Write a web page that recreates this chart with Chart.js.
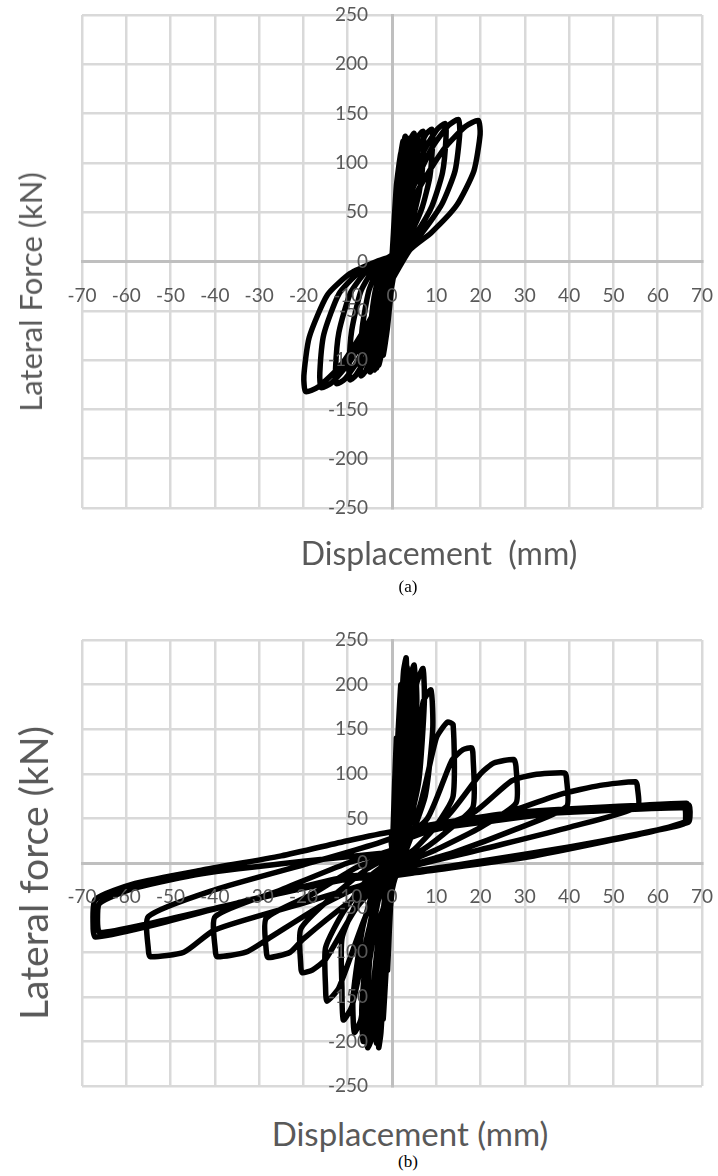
<!DOCTYPE html>
<html>
<head>
<meta charset="utf-8">
<script src="https://cdn.jsdelivr.net/npm/chart.js@4.4.1/dist/chart.umd.min.js"></script>
<style>
  body { margin: 0; background: #fff; width: 718px; height: 1176px; position: relative; overflow: hidden; }
  canvas { position: absolute; left: 0; }
  .lbl { position: absolute; font-family: Lato, "Open Sans", sans-serif; color: #595959; white-space: nowrap; transform: translate(-50%, -50%); }
  .rot { transform: translate(-50%, -50%) rotate(-90deg); }
  .cap { position: absolute; font-family: "Liberation Serif", serif; font-size: 17px; color: #000; transform: translate(-50%, -50%); }
</style>
</head>
<body>
<canvas id="chartA" width="718" height="560" style="top:0"></canvas>
<canvas id="chartB" width="718" height="500" style="top:600px"></canvas>

<div class="lbl rot" style="left:30px; top:292px; font-size:31px;">Lateral Force (kN)</div>
<div class="lbl" style="left:439px; top:552px; font-size:32px;">Displacement&nbsp; (mm)</div>
<div class="cap" style="left:408px; top:587px;">(a)</div>

<div class="lbl rot" style="left:33px; top:873px; font-size:39px;">Lateral force (kN)</div>
<div class="lbl" style="left:410px; top:1133px; font-size:33px;">Displacement (mm)</div>
<div class="cap" style="left:408px; top:1162px;">(b)</div>

<script>
// axis ticks (mm / kN)
const xTicks = [-70, -60, -50, -40, -30, -20, -10, 0, 10, 20, 30, 40, 50, 60, 70];
const yTicks = [-250, -200, -150, -100, -50, 0, 50, 100, 150, 200, 250];

// specimen (a): [displacement mm, lateral force kN]
const hystA = [
  [0, 0],
  [0.5, 42], [1, 60], [0.9, 36], [0.4, 9], [-0.5, -35], [-1, -50], [-0.9, -30], [-0.4, -8],
  [0, 5], [1, 77], [2, 110], [1.8, 66], [0.8, 16], [-1, -66], [-2, -95], [-1.8, -57], [-0.8, -14],
  [0, 6], [1.25, 85], [2.5, 122], [2.25, 73], [1, 18], [-1.5, -73], [-3, -105], [-2.7, -63], [-1.2, -16],
  [0, 6], [1.5, 89], [3, 127], [2.7, 76], [1.2, 19], [-1.75, -76], [-3.5, -108], [-3.15, -65], [-1.4, -16],
  [0, 6], [1.75, 88], [3.5, 125], [3.15, 75], [1.4, 19], [-2, -77], [-4, -110], [-3.6, -66], [-1.6, -17],
  [0, 6], [2, 92], [4, 124], [3.6, 72], [1.6, 18], [-2.2, -78], [-4.5, -108], [-4, -64], [-1.8, -16],
  [0, 7], [1.5, 65], [3, 104], [4.25, 125], [5, 130], [5.1, 117], [4.75, 83], [3.75, 52], [2.25, 26], [1, 10],
  [-1.5, -56], [-3, -90], [-4.25, -108], [-5, -112], [-5.1, -99], [-4.8, -65], [-3.75, -29], [-2.4, -10], [-0.9, 0],
  [0, 7], [2.1, 66], [4.2, 106], [5.95, 127], [7, 132], [7.14, 119], [6.65, 84], [5.25, 53], [3.15, 26], [1.4, 11],
  [-2.1, -58], [-4.2, -93], [-5.95, -111], [-7, -116], [-7.14, -102], [-6.72, -67], [-5.25, -30], [-3.36, -10], [-1.26, 0],
  [0, 7], [2.7, 67], [5.4, 107], [7.65, 129], [9, 134], [9.18, 121], [8.55, 86], [6.75, 54], [4.05, 27], [1.8, 11],
  [-2.85, -60], [-5.7, -96], [-8.1, -115], [-9.5, -120], [-9.7, -106], [-9.1, -70], [-7.1, -31], [-4.6, -11], [-1.7, 0],
  [0, 7], [3.6, 70], [7.2, 112], [10.2, 134], [12, 140], [12.2, 126], [11.4, 90], [9, 56], [5.4, 28], [2.4, 11],
  [-3.75, -62], [-7.5, -99], [-10.6, -119], [-12.5, -124], [-12.75, -109], [-12, -72], [-9.4, -32], [-6, -11], [-2.25, 0],
  [0, 7], [4.5, 72], [9, 115], [12.75, 138], [15, 144], [15.3, 130], [14.25, 92], [11.25, 58], [6.75, 29], [3, 12],
  [-4.8, -64], [-9.6, -102], [-13.6, -123], [-16, -128], [-16.3, -113], [-15.4, -74], [-12, -33], [-7.7, -12], [-2.9, 0],
  [0, 7], [5.85, 72], [11.7, 114], [16.6, 137], [19.5, 143], [19.9, 129], [18.5, 92], [14.6, 57], [8.8, 29], [3.9, 11],
  [-5.85, -66], [-11.7, -106], [-16.6, -127], [-19.5, -132], [-19.9, -116], [-18.7, -77], [-14.6, -34], [-9.4, -12], [-3.5, 0], [0, 5]
];

// specimen (b): [displacement mm, lateral force kN]
const hystB = [
  [0, 0],
  [0.6, 90], [1, 140], [0.8, 80], [0.2, 5], [-0.6, -75], [-1, -120], [-0.8, -70], [-0.2, -5],
  [0, 5], [1.2, 130], [2, 200], [1.7, 110], [0.5, 10], [-1.2, -110], [-2, -175], [-1.7, -100], [-0.5, -10],
  [0, 10], [1.5, 120], [2.6, 215], [3.2, 230], [3.3, 200], [2.6, 110], [1, 15],
  [-1.4, -100], [-2.5, -190], [-3, -207], [-3.1, -180], [-2.4, -95], [-0.8, -10],
  [0, 10], [1.7, 115], [2.8, 205], [3.4, 220], [3.5, 190], [2.8, 105], [1.1, 15],
  [-1.6, -95], [-2.8, -185], [-3.5, -202], [-3.6, -175], [-2.7, -90], [-0.9, -10],
  [0, 12], [2.5, 100], [4, 205], [5, 222], [5.3, 190], [4.5, 100], [2, 15],
  [-2.5, -90], [-4.5, -195], [-5.5, -207], [-5.7, -170], [-4.5, -80], [-1.5, -5],
  [0, 12], [2.7, 95], [4.3, 195], [5.3, 212], [5.6, 180], [4.7, 95], [2.1, 15],
  [-2.7, -85], [-4.7, -185], [-5.8, -200], [-6, -165], [-4.7, -78], [-1.6, -5],
  [0, 15], [3.5, 95], [5.5, 200], [7, 218], [7.3, 180], [6, 90], [2.5, 15],
  [-3, -85], [-5.2, -185], [-6.5, -200], [-6.8, -160], [-5.2, -75], [-2, -5],
  [0, 15], [4.5, 80], [7, 180], [8.8, 194], [9.2, 150], [7.5, 75], [3, 12],
  [-4, -80], [-7, -175], [-8.5, -190], [-8.8, -150], [-6.5, -70], [-2.5, -5],
  [0, 15], [6, 60], [10, 140], [12.5, 158], [13.8, 155], [13.8, 75], [10, 42], [5, 15], [0, -5],
  [-5, -70], [-9, -160], [-11, -176], [-11.3, -140], [-11.3, -85], [-8, -45], [-4, -12], [0, 5],
  [0, 15], [8, 50], [13.5, 115], [16, 127], [18, 129], [18.3, 120], [18.3, 63], [13, 38], [7, 15], [0, -5],
  [-6, -60], [-12, -140], [-14.7, -155], [-15, -140], [-15, -95], [-11, -55], [-5, -15], [0, 5],
  [0, 18], [12, 50], [20, 100], [23, 112], [27.5, 116], [28, 108], [28, 67], [20, 40], [10, 15], [0, -8],
  [-8, -50], [-15, -108], [-18, -120], [-20.3, -123], [-20.6, -115], [-20.6, -74], [-14, -40], [-6, -8], [0, 10],
  [0, 20], [18, 55], [27, 92], [32, 99], [39, 101], [39.4, 95], [39.4, 63], [28, 38], [14, 12], [0, -10],
  [-10, -45], [-20, -85], [-23, -100], [-28, -106], [-28.4, -98], [-28.4, -62], [-18, -35], [-8, -5], [0, 10],
  [0, 25], [25, 55], [38, 77], [47, 87], [55, 91], [55.4, 86], [55.4, 63], [40, 40], [20, 15], [0, -10],
  [-15, -45], [-28, -85], [-33, -100], [-39.5, -105], [-39.9, -98], [-39.9, -60], [-25, -30], [-10, 0], [0, 15],
  [0, 30], [24, 48], [45, 60], [66.5, 67], [67, 60], [66.8, 48], [60, 37], [50, 26], [31, 7], [5, -11], [0, -15],
  [-20, -45], [-40, -75], [-47, -100], [-54.6, -105], [-55, -98], [-55, -60], [-40, -30], [-20, -2], [-8, 15], [0, 28],
  [0, 35], [25, 55], [45, 62], [67, 65], [67.3, 58], [67, 46], [58, 35], [45, 22], [25, 5], [0, -12],
  [-10, -15], [-35, -45], [-55, -71], [-67, -83], [-67.5, -70], [-67, -41], [-58, -23], [-43, -8], [-25, 8], [-10, 25], [0, 35],
  [25, 52], [45, 58], [66, 62], [66.3, 55], [66, 44], [55, 32], [40, 18], [20, 2], [0, -14],
  [-10, -18], [-35, -45], [-55, -68], [-66, -78], [-66.5, -65], [-66, -45], [-58, -28], [-43, -12], [-20, 2], [0, 12]
];

const tickColor = '#595959';
const gridColor = '#d9d9d9';

// tick labels drawn after the loops, next to the crossing axes
const axisLabels = {
  id: 'axisLabels',
  afterDatasetsDraw(chart) {
    const { ctx, scales: { x, y } } = chart;
    const x0 = x.getPixelForValue(0);
    const y0 = y.getPixelForValue(0);
    ctx.save();
    ctx.fillStyle = tickColor;
    ctx.font = '19px Lato';
    ctx.textBaseline = 'middle';
    ctx.textAlign = 'right';
    yTicks.forEach(v => ctx.fillText(String(v), x0 - 24, y.getPixelForValue(v)));
    ctx.textAlign = 'center';
    xTicks.forEach(v => ctx.fillText(String(v), x.getPixelForValue(v), y0 + 34));
    ctx.restore();
  }
};

function noOverflow(s) {
  s.paddingLeft = 0; s.paddingRight = 0; s.paddingTop = 0; s.paddingBottom = 0;
}

function makeChart(canvasId, pts, pad) {
  return new Chart(document.getElementById(canvasId), {
    type: 'scatter',
    data: {
      datasets: [{
        data: pts.map(p => ({ x: p[0], y: p[1] })),
        showLine: true,
        borderColor: '#000',
        borderWidth: 5.5,
        borderJoinStyle: 'round',
        tension: 0.2,
        pointRadius: 0,
        fill: false
      }]
    },
    options: {
      responsive: false,
      animation: false,
      layout: { padding: pad },
      plugins: { legend: { display: false }, tooltip: { enabled: false } },
      scales: {
        x: {
          type: 'linear',
          position: { y: 0 },
          min: -70,
          max: 70,
          afterBuildTicks: s => { s.ticks = xTicks.map(v => ({ value: v })); },
          afterFit: noOverflow,
          grid: { color: gridColor, lineWidth: 2.5, drawTicks: false },
          border: { color: '#bfbfbf', width: 3 },
          ticks: { display: false }
        },
        y: {
          type: 'linear',
          position: { x: 0 },
          min: -250,
          max: 250,
          afterBuildTicks: s => { s.ticks = yTicks.map(v => ({ value: v })); },
          afterFit: noOverflow,
          grid: { color: gridColor, lineWidth: 2.5, drawTicks: false },
          border: { color: '#bfbfbf', width: 3 },
          ticks: { display: false }
        }
      }
    },
    plugins: [axisLabels]
  });
}

makeChart('chartA', hystA, { left: 82, right: 16, top: 15, bottom: 52 });
makeChart('chartB', hystB, { left: 82, right: 16, top: 40, bottom: 14 });
</script>
</body>
</html>
